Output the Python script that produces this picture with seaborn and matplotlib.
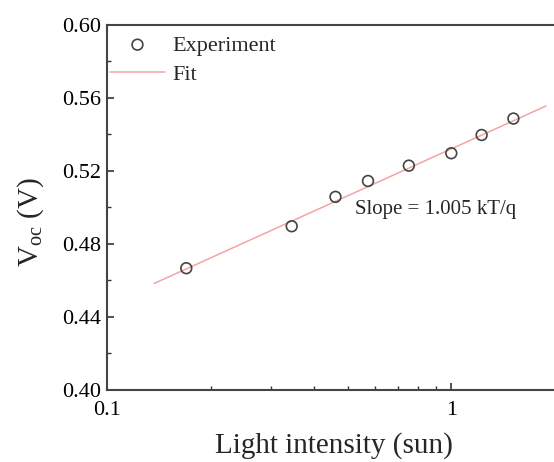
import numpy as np
import pandas as pd
import matplotlib
matplotlib.use("Agg")
import matplotlib.pyplot as plt
import seaborn as sns
from matplotlib.ticker import LogLocator, MultipleLocator, FixedLocator, FixedFormatter, NullFormatter

sns.set_style("ticks")
plt.rcParams['font.family'] = ['Liberation Serif', 'DejaVu Serif']
plt.rcParams['mathtext.fontset'] = 'custom'
plt.rcParams['mathtext.rm'] = 'Liberation Serif'
plt.rcParams['mathtext.it'] = 'Liberation Serif:italic'

# Data
intensity = [0.170, 0.344, 0.461, 0.573, 0.753, 1.0, 1.225, 1.515]
voc = [0.4667, 0.4897, 0.5058, 0.5145, 0.5229, 0.5297, 0.5397, 0.5487]
fit_x = [0.137, 1.884]
fit_y = [0.4583, 0.5556]

df = pd.DataFrame({'x': intensity, 'y': voc})
df_fit = pd.DataFrame({'x': fit_x, 'y': fit_y})

fig = plt.figure(figsize=(5.54, 4.62), dpi=100)
ax = fig.add_axes([0.193, 0.156, 0.818, 0.79])

sns.lineplot(data=df_fit, x='x', y='y', ax=ax, color='#f5a3a3', linewidth=1.1,
             label='Fit')
sns.scatterplot(data=df, x='x', y='y', ax=ax, marker='o', s=60,
                facecolor='none', edgecolor='#444444', linewidth=1.2,
                label='Experiment', zorder=3)

ax.set_xscale('log')
ax.set_xlim(0.1, 2.07)
ax.set_ylim(0.40, 0.60)

ax.xaxis.set_major_locator(FixedLocator([0.1, 1]))
ax.xaxis.set_major_formatter(FixedFormatter(['0.1', '1']))
ax.xaxis.set_minor_locator(LogLocator(base=10, subs=np.arange(2, 10)))
ax.xaxis.set_minor_formatter(NullFormatter())
ax.yaxis.set_major_locator(MultipleLocator(0.04))
ax.yaxis.set_minor_locator(MultipleLocator(0.02))
ax.yaxis.set_major_formatter(matplotlib.ticker.FormatStrFormatter('%.2f'))

ax.tick_params(axis='both', which='major', direction='in', length=5, width=1.2,
               labelsize=16, colors='#333333', labelcolor='black', pad=4)
ax.tick_params(axis='both', which='minor', direction='in', length=3, width=1.0,
               colors='#333333')
ax.tick_params(axis='x', which='major', pad=8)

for side in ['left', 'bottom', 'top', 'right']:
    ax.spines[side].set_visible(True)
    ax.spines[side].set_color('#444444')
    ax.spines[side].set_linewidth(1.5)

ax.set_xlabel('Light intensity (sun)', fontsize=21, labelpad=9)
ax.set_ylabel(r'V$_{\mathrm{oc}}$ (V)', fontsize=21)
ax.yaxis.set_label_coords(-0.135, 0.46)

ax.text(0.526, 0.499, 'Slope = 1.005 kT/q', fontsize=15, va='center', ha='left')

handles, labels = ax.get_legend_handles_labels()
order = [labels.index('Experiment'), labels.index('Fit')]
ax.legend([handles[i] for i in order], [labels[i] for i in order],
          loc='upper left', bbox_to_anchor=(-0.016, 1.0),
          frameon=False, fontsize=16, handlelength=2.5,
          handletextpad=0.3, labelspacing=0.38, borderaxespad=0.1,
          borderpad=0.35)

fig.savefig('out.png', dpi=100)
